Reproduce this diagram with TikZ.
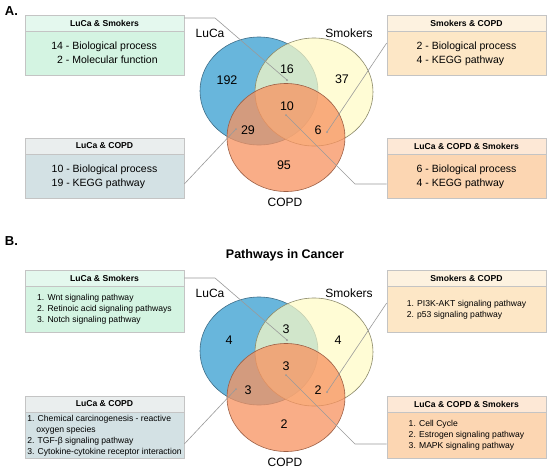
\documentclass[tikz,border=0pt]{standalone}
\usepackage{fontspec}
\setmainfont{Liberation Sans}
\usepackage{xcolor}
\usetikzlibrary{positioning}

\definecolor{lucafill}{HTML}{68B6DC}
\definecolor{lucaline}{HTML}{3F6E88}
\definecolor{smokfill}{HTML}{FFFBC4}
\definecolor{smokline}{HTML}{8C8A6A}
\definecolor{copdfill}{HTML}{F8925F}
\definecolor{copdline}{HTML}{9C5F45}
\definecolor{boxline}{HTML}{C4C4C4}
\definecolor{linkgray}{HTML}{9A9A9A}
\definecolor{lsHead}{HTML}{E4F8EE}
\definecolor{lsBody}{HTML}{D4F4E2}
\definecolor{lcHead}{HTML}{EAEEEE}
\definecolor{lcBody}{HTML}{D3E1E4}
\definecolor{scHead}{HTML}{FDF2E0}
\definecolor{scBody}{HTML}{FDE7C6}
\definecolor{trHead}{HTML}{FDE8D6}
\definecolor{trBody}{HTML}{FCD6B2}

\begin{document}
\begin{tikzpicture}[x=1pt, y=-1pt,
  hdr/.style={draw=boxline, line width=0.6pt, minimum width=159pt, minimum height=16pt,
    inner sep=0pt, font=\bfseries\fontsize{8.6}{10}\selectfont},
  bodyA/.style={draw=boxline, line width=0.6pt, minimum width=159pt, minimum height=44pt,
    inner sep=0pt, font=\fontsize{10.5}{13.5}\selectfont},
  bodyB/.style={draw=boxline, line width=0.6pt, minimum width=159pt, minimum height=46pt,
    inner sep=0pt, align=left, font=\fontsize{8.6}{11}\selectfont},
  num/.style={font=\fontsize{12.5}{14}\selectfont},
  setlbl/.style={font=\fontsize{12}{14}\selectfont},
  link/.style={draw=linkgray, line width=0.6pt}]
\useasboundingbox[fill=white] (0,0) rectangle (550,469);

% panel labels
\node[font=\bfseries\fontsize{13}{15}\selectfont] (pA) at (11.5,11) {A.};
\node[font=\bfseries\fontsize{13}{15}\selectfont] (pB) at (11.5,241) {B.};
\node[font=\bfseries\fontsize{12.5}{14}\selectfont] (title) at (285,255) {Pathways in Cancer};

% the two Venn diagrams
\foreach \p/\dy in {A/0, B/260} {
  \begin{scope}[shift={(0,\dy)}]
    \draw[fill=lucafill, draw=lucaline, line width=0.6pt] (259,91) ellipse [x radius=59, y radius=54];
    \draw[fill=smokfill, fill opacity=0.7, draw=smokline, line width=0.6pt] (314,92) ellipse [x radius=59, y radius=54];
    \draw[fill=copdfill, fill opacity=0.75, draw=copdline, line width=0.6pt] (286,137.5) ellipse [x radius=59, y radius=54];
    \node[setlbl] (luca\p) at (210,33) {LuCa};
    \node[setlbl] (smok\p) at (349,33) {Smokers};
    \node[setlbl] (copd\p) at (285,202) {COPD};
    \coordinate (d\p1) at (287,80);
    \coordinate (d\p2) at (236,129);
    \coordinate (d\p3) at (327,132);
    \coordinate (d\p4) at (286,115);
    \coordinate (k\p1) at (215,18);
    \coordinate (k\p2) at (184,184);
    \coordinate (k\p4) at (355,184);
  \end{scope}
}

% counts
\foreach \x/\y/\n/\k in {227/80/192/a1, 287/69/16/a2, 342/79/37/a3, 287/106/10/a4,
  248/130/29/a5, 318/130/6/a6, 284/165/95/a7,
  229/340/4/b1, 286/329/3/b2, 338/340/4/b3, 286/366/3/b4,
  248/390/3/b5, 318/390/2/b6, 284/424/2/b7}
  \node[num] (n\k) at (\x,\y) {\n};

% panel A boxes
\node[hdr, fill=lsHead] (hA1) at (104.5,23) {LuCa \& Smokers};
\node[bodyA, fill=lsBody, below=0pt of hA1] (bA1) {\begin{tabular}{@{}r@{\ -\ }l@{}}14 & Biological process\\ 2 & Molecular function\end{tabular}};
\node[hdr, fill=lcHead] (hA2) at (104.5,146) {LuCa \& COPD};
\node[bodyA, fill=lcBody, below=0pt of hA2] (bA2) {\begin{tabular}{@{}r@{\ -\ }l@{}}10 & Biological process\\ 19 & KEGG pathway\end{tabular}};
\node[hdr, fill=scHead] (hA3) at (466.5,23) {Smokers \& COPD};
\node[bodyA, fill=scBody, below=0pt of hA3] (bA3) {\begin{tabular}{@{}r@{\ -\ }l@{}}2 & Biological process\\ 4 & KEGG pathway\end{tabular}};
\node[hdr, fill=trHead] (hA4) at (466.5,146) {LuCa \& COPD \& Smokers};
\node[bodyA, fill=trBody, below=0pt of hA4] (bA4) {\begin{tabular}{@{}r@{\ -\ }l@{}}6 & Biological process\\ 4 & KEGG pathway\end{tabular}};

% panel B boxes
\node[hdr, fill=lsHead] (hB1) at (104.5,278) {LuCa \& Smokers};
\node[bodyB, fill=lsBody, below=0pt of hB1] (bB1) {1. Wnt signaling pathway\\2. Retinoic acid signaling pathways\\3. Notch signaling pathway};
\node[hdr, fill=lcHead] (hB2) at (104.5,404) {LuCa \& COPD};
\node[bodyB, fill=lcBody, below=0pt of hB2] (bB2) {1. Chemical carcinogenesis - reactive\\\hspace*{9pt}oxygen species\\2. TGF-β signaling pathway\\3. Cytokine-cytokine receptor interaction};
\node[hdr, fill=scHead] (hB3) at (466.5,278) {Smokers \& COPD};
\node[bodyB, fill=scBody, below=0pt of hB3] (bB3) {1. PI3K-AKT signaling pathway\\2. p53 signaling pathway};
\node[hdr, fill=trHead] (hB4) at (466.5,404) {LuCa \& COPD \& Smokers};
\node[bodyB, fill=trBody, below=0pt of hB4] (bB4) {1. Cell Cycle\\2. Estrogen signaling pathway\\3. MAPK signaling pathway};

% connectors
\foreach \p in {A,B} {
  \draw[link] (h\p1.east |- k\p1) -- (k\p1) -- (d\p1);
  \draw[link] (b\p2.east |- k\p2) -- (d\p2);
  \draw[link] (b\p4.west |- k\p4) -- (k\p4) -- (d\p4);
  \foreach \i in {1,...,4} \fill[linkgray] (d\p\i) circle (1);
}
\draw[link] (bA3.west |- 0,43) -- (dA3);
\draw[link] (bB3.west |- 0,303) -- (dB3);
\end{tikzpicture}
\end{document}
